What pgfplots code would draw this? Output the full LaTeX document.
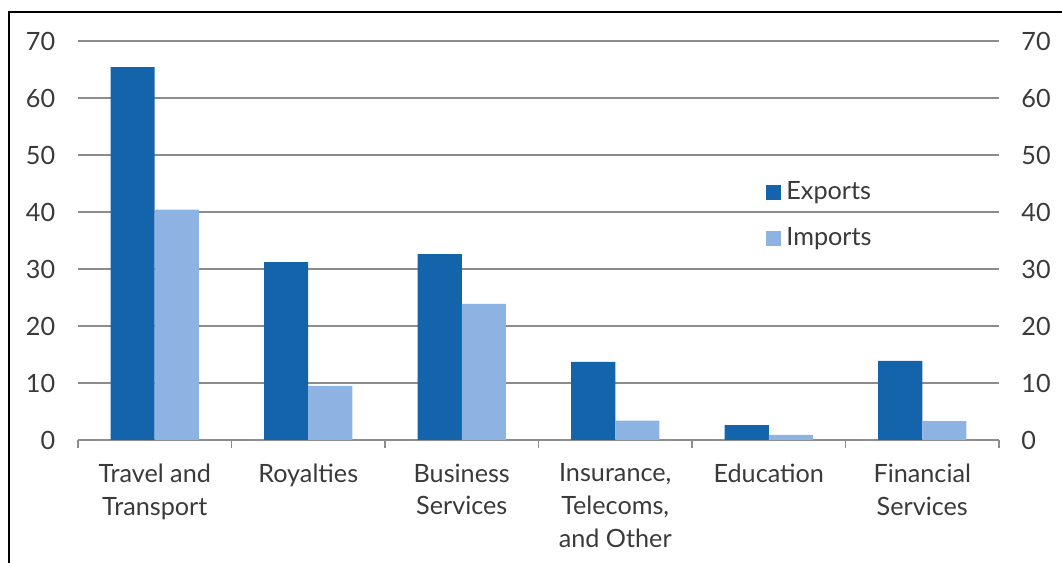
\documentclass[border=0pt]{standalone}
\usepackage{fontspec}
\setmainfont{Lato}
\usepackage{pgfplots}
\pgfplotsset{compat=1.18}
\usetikzlibrary{calc}
\definecolor{expc}{HTML}{1464AC}
\definecolor{impc}{HTML}{8DB3E2}
\definecolor{txt}{HTML}{3A3A3A}
\definecolor{grd}{HTML}{8C8C8C}
\newcommand{\lblfont}{\fontsize{12.6}{16.3}\selectfont}

\pgfplotsset{
  base/.style={
    width=460.5pt, height=199.5pt, scale only axis,
    xmin=-0.5, xmax=5.5, ymin=0, ymax=70,
    ytick={0,10,...,70},
    /pgf/number format/assume math mode=true,
    ticklabel style={font=\lblfont, text=txt},
    major tick length=0pt,
  }
}

\begin{document}
\begin{tikzpicture}
\begin{axis}[base, name=ax,
    axis x line*=bottom, axis y line*=left,
    y axis line style={draw=none},
    x axis line style={grd, line width=0.65pt},
    ytick style={draw=none},
    ymajorgrids, grid style={grd, line width=0.65pt},
    yticklabel style={xshift=-7.9pt},
    xtick={0,...,5},
    xticklabels={{Travel and\\Transport},{Royalties},{Business\\Services},{Insurance,\\Telecoms,\\and Other},{Education},{Financial\\Services}},
    xticklabel style={align=center, yshift=-8.4pt},
    major x tick style={draw=none},
    minor xtick={-0.5,0.5,...,5.5},
    minor tick length=4pt, tick align=outside,
    minor x tick style={grd, line width=0.65pt},
    legend style={at={(0.747,0.5615)}, anchor=west, draw=none, fill=none,
      inner sep=0pt, row sep=11.5pt, font=\lblfont, text=txt,
      nodes={inner sep=0pt, text height=9pt, text depth=2.5pt}},
    legend cell align=left,
  ]
  \addplot[ybar, bar width=0.287, bar shift=-0.1435, fill=expc, draw=none,
    legend image code/.code={\fill[expc] (0pt,-3.75pt) rectangle (7.5pt,3.75pt);}]
    coordinates {(0,65.4) (1,31.2) (2,32.6) (3,13.7) (4,2.6) (5,13.9)};
  \addlegendentry{\hspace{2.5pt}Exports}
  \addplot[ybar, bar width=0.287, bar shift=0.1435, fill=impc, draw=none,
    legend image code/.code={\fill[impc] (0pt,-3.75pt) rectangle (7.5pt,3.75pt);}]
    coordinates {(0,40.4) (1,9.5) (2,23.9) (3,3.4) (4,0.9) (5,3.3)};
  \addlegendentry{\hspace{2.5pt}Imports}
\end{axis}
\begin{axis}[base,
    axis x line=none, axis y line*=right,
    y axis line style={draw=none},
    ytick style={draw=none},
    yticklabel pos=right,
    yticklabel style={xshift=7.7pt},
  ]
\end{axis}
\pgfresetboundingbox
\useasboundingbox ($(ax.south west)+(-39pt,-61.5pt)$) rectangle ($(ax.north east)+(31.5pt,20.5pt)$);
\draw[line width=1pt] ($(ax.south west)+(-34.5pt,-62pt)$) -- ($(ax.north west)+(-34.5pt,14.5pt)$) -- ($(ax.north east)+(32pt,14.5pt)$);
\end{tikzpicture}
\end{document}
